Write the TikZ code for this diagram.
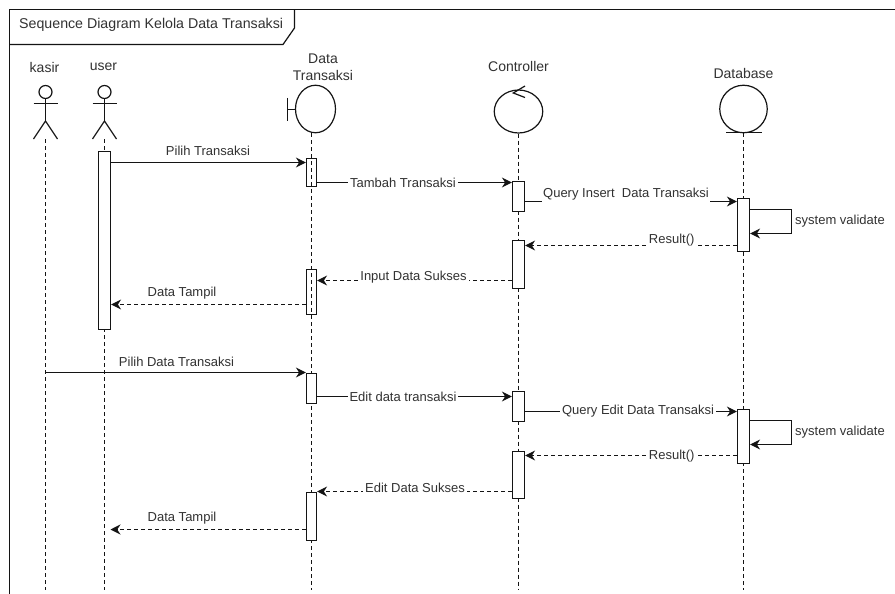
\documentclass[tikz,border=0pt]{standalone}
\usepackage{fontspec}
\setmainfont{Liberation Sans}
\usetikzlibrary{shapes.geometric, arrows.meta}
\definecolor{ink}{RGB}{20, 20, 20}
\definecolor{labelink}{RGB}{50, 50, 50}
\tikzset{
  every node/.style={font=\fontsize{13}{15}\selectfont, text=labelink},
  headlabel/.style={font=\fontsize{14}{17.3}\selectfont},
  lifeline/.style={ink, line width=1.2, dash pattern=on 4pt off 3pt},
  figure/.style={ink, line width=1.2},
  activation/.style={draw=ink, fill=white, line width=1.2, inner sep=0, minimum width=12, anchor=north},
  hollowactivation/.style={draw=ink, line width=1.2, inner sep=0, minimum width=10, anchor=north},
  call/.style={ink, line width=1.2, -{Stealth[length=10pt, width=10pt]}},
  reply/.style={ink, line width=1.2, dash pattern=on 4pt off 3pt, -{Stealth[length=10pt, width=10pt]}},
  msglabel/.style={fill=white, inner xsep=2, inner ysep=1},
  coverlabel/.style={fill=white, inner xsep=1, inner ysep=8}
}

\begin{document}
\begin{tikzpicture}[x=1pt, y=-1pt]

  \pgfmathsetmacro{\xkasir}{45.5};
  \pgfmathsetmacro{\xuser}{104.5};
  \pgfmathsetmacro{\xdata}{311.5};
  \pgfmathsetmacro{\xctrl}{518.5};
  \pgfmathsetmacro{\xbase}{743.5};
  \pgfmathsetmacro{\xloop}{791.5};

  \fill[white] (0, 0) rectangle (895, 594);
  \useasboundingbox (0, 0) rectangle (895, 594);

  \draw[ink, line width=1.2] (895, 9.5) -- (9.5, 9.5) -- (9.5, 594);
  \draw[ink, line width=1.2] (294.5, 9.5) -- (294.5, 28) -- (283, 44.5) -- (9.5, 44.5);
  \node[font=\fontsize{14.2}{17}\selectfont, anchor=west, inner sep=0] (title) at (19, 25) {Sequence Diagram Kelola Data Transaksi};

  \foreach \name/\x in {kasir/\xkasir, user/\xuser} {
    \node[headlabel] (\name label) at (\x - 1, 67) {\name};
    \draw[figure] (\x, 92) circle (6.5);
    \draw[figure] (\x, 98.5) -- (\x, 121);
    \draw[figure] (\x - 12, 103.5) -- (\x + 12, 103.5);
    \draw[figure] (\x - 12, 139) -- (\x, 121) -- (\x + 12, 139);
    \coordinate (\name top) at (\x, 139);
    \coordinate (\name end) at (\x, 590);
    \draw[lifeline] (\name top) -- (\name end);
  }

  \node[headlabel, align=center, inner sep=0] (datalabel) at (323, 67) {Data\\Transaksi};
  \node[ellipse, draw=ink, line width=1.2, minimum width=40, minimum height=47.5, inner sep=0] (dataicon) at (315.5, 109) {};
  \coordinate (datahook) at (287.5, 109.5);
  \draw[figure] (datahook) -- (dataicon.west |- datahook);
  \draw[figure] (287.5, 98) -- (287.5, 121);

  \node[headlabel] (ctrllabel) at (\xctrl, 66) {Controller};
  \node[ellipse, draw=ink, line width=1.2, minimum width=48.5, minimum height=43, inner sep=0] (ctrlicon) at (\xctrl, 111.5) {};
  \draw[figure] (525, 86) -- (513.3, 93) -- (525, 97.5);

  \node[headlabel] (baselabel) at (\xbase, 73) {Database};
  \node[circle, draw=ink, line width=1.2, minimum size=47.5, inner sep=0] (baseicon) at (\xbase, 109) {};
  \draw[figure] (726, 132.5) -- (761.5, 132.5);

  \coordinate (datatop) at (\xdata, 133);
  \coordinate (dataend) at (\xdata, 590);
  \coordinate (ctrlend) at (\xctrl, 590);
  \coordinate (baseend) at (\xbase, 590);
  \draw[lifeline] (datatop) -- (dataend);
  \draw[lifeline] (ctrlicon.south) -- (ctrlend);
  \draw[lifeline] (baseicon.south) -- (baseend);

  \node[activation, minimum height=178] (user1) at (\xuser, 150.5) {};
  \node[hollowactivation, minimum height=28] (data1) at (\xdata, 157.5) {};
  \node[hollowactivation, minimum height=45] (data2) at (\xdata, 268.5) {};
  \node[hollowactivation, fill=white, minimum height=30] (data3) at (\xdata, 372.5) {};
  \node[hollowactivation, fill=white, minimum height=48] (data4) at (\xdata, 491.5) {};
  \node[activation, minimum height=30] (ctrl1) at (\xctrl, 180.5) {};
  \node[activation, minimum height=48] (ctrl2) at (\xctrl, 239.5) {};
  \node[activation, minimum height=30] (ctrl3) at (\xctrl, 390.5) {};
  \node[activation, minimum height=47] (ctrl4) at (\xctrl, 450.5) {};
  \node[activation, minimum height=53] (base1) at (\xbase, 197.5) {};
  \node[activation, minimum height=54] (base2) at (\xbase, 408.5) {};

  \draw[call] (user1.east |- 0, 162.5) -- (data1.west |- 0, 162.5);
  \node[inner sep=0] (pilih) at (208, 151) {Pilih Transaksi};

  \draw[call] (data1.east |- 0, 182.5) -- (ctrl1.west |- 0, 182.5);
  \node[msglabel] (tambah) at (403, 183) {Tambah Transaksi};

  \draw[call] (ctrl1.east |- 0, 201.5) -- (base1.west |- 0, 201.5);
  \node[coverlabel] (queryinsert) at (626, 194) {Query Insert\ \ Data Transaksi};

  \draw[call] (base1.east |- 0, 209.5) -- (\xloop, 209.5) -- (\xloop, 233.5) -- (base1.east |- 0, 233.5);
  \node[anchor=west, inner sep=0] (validate1) at (795, 221.5) {system validate};

  \draw[reply] (base1.west |- 0, 245.5) -- (ctrl2.east |- 0, 245.5);
  \node[msglabel] (result1) at (671.7, 240) {Result()};

  \draw[reply] (ctrl2.west |- 0, 280.5) -- (data2.east |- 0, 280.5);
  \node[msglabel] (sukses1) at (413.5, 277) {Input Data Sukses};

  \draw[reply] (data2.west |- 0, 304.5) -- (user1.east |- 0, 304.5);
  \node[inner sep=0] (tampil1) at (182, 293) {Data Tampil};

  \draw[call] (\xkasir, 372.5) -- (data3.west |- 0, 372.5);
  \node[inner sep=0] (pilihdata) at (176.5, 362) {Pilih Data Transaksi};

  \draw[call] (data3.east |- 0, 396.5) -- (ctrl3.west |- 0, 396.5);
  \node[msglabel] (editdata) at (403, 397) {Edit data transaksi};

  \draw[call] (ctrl3.east |- 0, 411.5) -- (base2.west |- 0, 411.5);
  \node[msglabel] (queryedit) at (638, 411) {Query Edit Data Transaksi};

  \draw[call] (base2.east |- 0, 420.5) -- (\xloop, 420.5) -- (\xloop, 444.5) -- (base2.east |- 0, 444.5);
  \node[anchor=west, inner sep=0] (validate2) at (795, 432.5) {system validate};

  \draw[reply] (base2.west |- 0, 455.5) -- (ctrl4.east |- 0, 455.5);
  \node[msglabel] (result2) at (671.7, 456) {Result()};

  \draw[reply] (ctrl4.west |- 0, 491.5) -- (data4.east |- 0, 491.5);
  \node[msglabel] (sukses2) at (415, 488) {Edit Data Sukses};

  \draw[reply] (data4.west |- 0, 529.5) -- (\xuser + 6, 529.5);
  \node[inner sep=0] (tampil2) at (182, 518) {Data Tampil};

\end{tikzpicture}
\end{document}
